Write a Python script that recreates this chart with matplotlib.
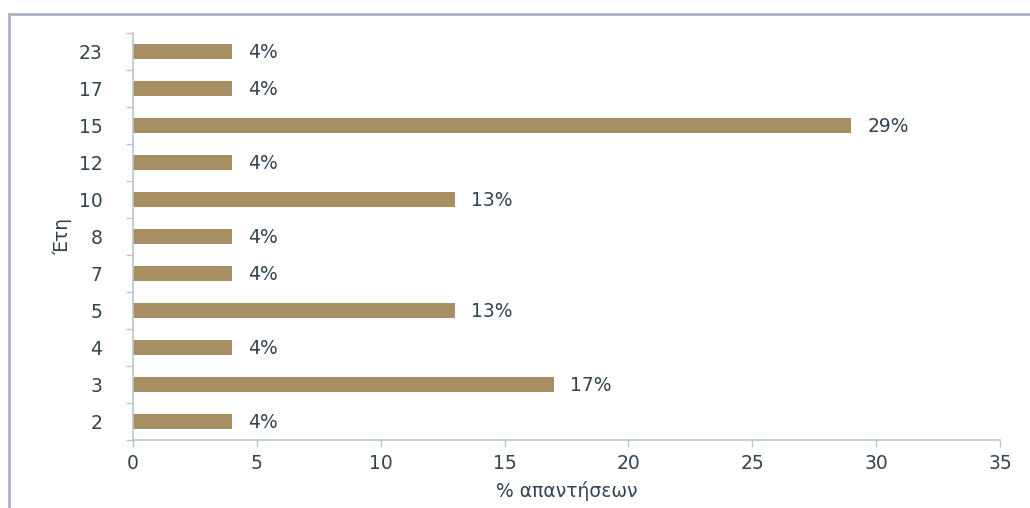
import numpy as np
import matplotlib
matplotlib.use("Agg")
import matplotlib.pyplot as plt
from matplotlib.patches import Rectangle

# data
years = ["2", "3", "4", "5", "7", "8", "10", "12", "15", "17", "23"]
shares = [4, 17, 4, 13, 4, 4, 13, 4, 29, 4, 4]
xticks = [0, 5, 10, 15, 20, 25, 30, 35]

bar_color = "#a78e63"
text_color = "#33434f"
spine_color = "#b9c5d0"
fs = 13.5

plt.rcParams["font.family"] = ["DejaVu Sans"]

fig = plt.figure(figsize=(10.30, 5.08), dpi=100)
ax = fig.add_axes([133 / 1030, 1 - 440 / 508, (1000 - 133) / 1030, (440 - 33) / 508])

# outer frame (cut off at right and bottom like the original)
fig.patches.append(Rectangle((9 / 1030, -0.05), 1.1, 1 - 14 / 508 + 0.05,
                             transform=fig.transFigure, fill=False,
                             edgecolor="#a7b3bf", linewidth=2, zorder=0))

pos = np.arange(len(years))
ax.barh(pos, shares, height=0.4, color=bar_color)

for y, v in zip(pos, shares):
    ax.annotate(f"{v}%", xy=(v, y), xytext=(16, -1), textcoords="offset pixels",
                va="center", ha="left", fontsize=fs, color=text_color)

ax.set_xlim(0, 35)
ax.set_ylim(-0.5, len(years) - 0.5)
ax.set_xticks(xticks)
ax.set_yticks(pos)
ax.set_yticklabels(years)
ax.set_yticks(np.arange(-0.5, len(years)), minor=True)
ax.tick_params(axis="y", which="major", length=0, pad=22, labelsize=fs, labelcolor=text_color)
ax.tick_params(axis="y", which="minor", length=5, width=1, color=spine_color, direction="out")
ax.tick_params(axis="x", length=5, width=1, color=spine_color, pad=5, labelsize=fs, labelcolor=text_color)

for s in ["top", "right"]:
    ax.spines[s].set_visible(False)
for s in ["left", "bottom"]:
    ax.spines[s].set_color(spine_color)
    ax.spines[s].set_linewidth(1.2)

ax.set_xlabel("% απαντήσεων", fontsize=fs, color=text_color, labelpad=6)
ax.set_ylabel("Έτη", fontsize=fs, color=text_color, labelpad=5)

fig.savefig("out.png", dpi=100)
